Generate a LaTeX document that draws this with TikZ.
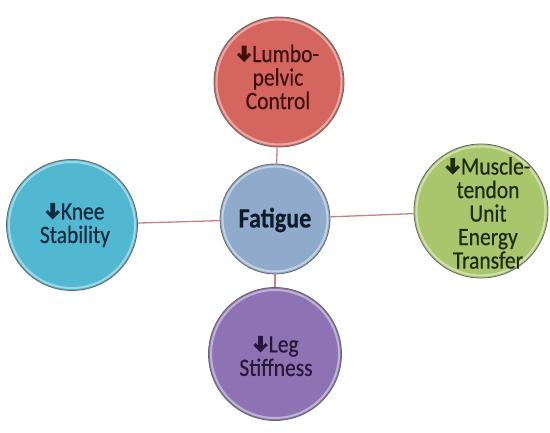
\documentclass[tikz,border=0pt]{standalone}
\usepackage{fontspec}
\setmainfont{Carlito}[FakeStretch=0.86,FakeBold=0.4]
\newcommand{\dnarrow}{\tikz[baseline=0pt,x=1pt,y=1pt]\fill (0,0) -- (7.2,7.2) -- (5,9.4) -- (2.4,6.8) -- (2.4,16.5) -- (-2.4,16.5) -- (-2.4,6.8) -- (-5,9.4) -- (-7.2,7.2) -- cycle;\hspace{1pt}}
\definecolor{cred}{HTML}{D4665F}
\definecolor{cblue}{HTML}{8FAACB}
\definecolor{cgreen}{HTML}{A9C66C}
\definecolor{ccyan}{HTML}{52B7D0}
\definecolor{cpurple}{HTML}{8D73B3}
\definecolor{tred}{HTML}{3E1010}
\definecolor{tblue}{HTML}{0D1A2A}
\definecolor{tgreen}{HTML}{1E2A0E}
\definecolor{tcyan}{HTML}{0F2B3D}
\definecolor{tpurple}{HTML}{27173A}
\definecolor{linkc}{HTML}{C98080}
\tikzset{
  bubble/.style={circle, inner sep=0pt, minimum size=#1, draw=black!60, line width=0.8pt},
  ring/.style={draw=white, opacity=0.45, line width=2pt},
  lbl/.style={align=center, font=\fontsize{25}{23.5}\selectfont, inner sep=0pt},
  link/.style={draw=linkc, line width=1.3pt}
}
\begin{document}
\begin{tikzpicture}[x=1pt,y=-1pt]
\useasboundingbox (0,0) rectangle (550,433);
% circles
\node[bubble=110pt, fill=cblue] (c) at (275,219) {};
\node[bubble=130pt, fill=cred] (t) at (279,82) {};
\node[bubble=134pt, fill=cgreen] (r) at (481,211) {};
\node[bubble=131pt, fill=ccyan] (l) at (72,225) {};
\node[bubble=133pt, fill=cpurple] (b) at (275,354) {};
% connectors
\draw[link] (c) -- (t);
\draw[link] (c) -- (r);
\draw[link] (c) -- (l);
\draw[link] (c) -- (b);
% gloss rings
\draw[ring] (c.center) circle (52.5);
\draw[ring] (t.center) circle (62.5);
\draw[ring] (r.center) circle (64.5);
\draw[ring] (l.center) circle (63);
\draw[ring] (b.center) circle (64);
% labels
\node[lbl, text=tblue, font=\fontsize{28}{28}\selectfont\bfseries] (tc) at (275,220) {Fatigue};
\node[lbl, text=tred] (tt) at (278,77) {\dnarrow Lumbo-\\pelvic\\Control};
\node[lbl, text=tgreen] (tr) at (488,213) {\dnarrow Muscle-\\tendon\\Unit\\Energy\\Transfer};
\node[lbl, text=tcyan] (tl) at (75,225) {\dnarrow Knee\\Stability};
\node[lbl, text=tpurple] (tb) at (276,356) {\dnarrow Leg\\Stiffness};
\end{tikzpicture}
\end{document}
